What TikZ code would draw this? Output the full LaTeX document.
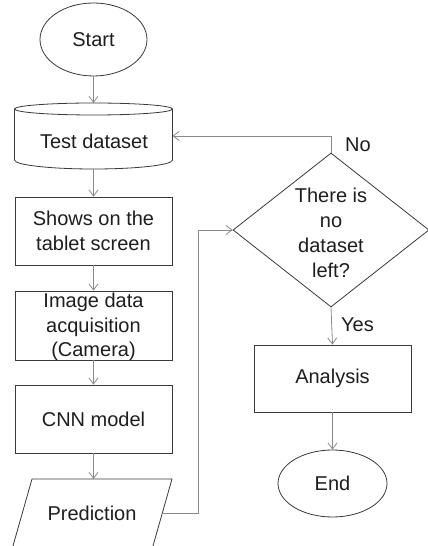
\documentclass[tikz,border=0pt]{standalone}
\usepackage{fontspec}
\setmainfont{Liberation Sans}
\usetikzlibrary{shapes.geometric,arrows.meta}
\definecolor{edgegray}{HTML}{3A3A3A}
\definecolor{linkgray}{HTML}{8A8A8A}
\definecolor{txtc}{HTML}{1E1E1E}
\begin{document}
\begin{tikzpicture}[x=1pt,y=1pt,
  shapeline/.style={draw=edgegray,line width=0.8pt},
  boxnode/.style={shapeline,rectangle,minimum width=157pt,minimum height=68pt,inner sep=0pt},
  ovalnode/.style={shapeline,ellipse,inner sep=0pt},
  txt/.style={text=txtc,font=\fontsize{20}{24.5}\selectfont,align=center,inner sep=0pt},
  link/.style={draw=linkgray,line width=0.8pt,-{Straight Barb[length=6pt,width=9pt]}},
  plainlink/.style={draw=linkgray,line width=0.8pt}]
\useasboundingbox (0,0) rectangle (428,546);
\fill[white] (0,0) rectangle (428,546);

% Start
\node[ovalnode,minimum width=107pt,minimum height=73pt] (start) at (93.5,506.5) {};
\node[txt] at (start.center) {Start};

% Cylinder: Test dataset
\coordinate (dstop) at (93.5,443);
\coordinate (dsbot) at (93.5,377);
\coordinate (dsright) at (172.5,410);
\draw[shapeline] (14.5,437) arc[start angle=180,end angle=0,x radius=79pt,y radius=6pt]
  -- (172.5,386) arc[start angle=0,end angle=-180,x radius=79pt,y radius=9pt] -- cycle;
\draw[shapeline] (14.5,437) arc[start angle=180,end angle=360,x radius=79pt,y radius=6pt];
\node[txt] (ds) at (94,405) {Test dataset};

% Boxes
\node[boxnode] (shows) at (93.5,315) {};
\node[txt] at (shows.center) {Shows on the\\tablet screen};
\node[boxnode,minimum height=69pt] (image) at (93.5,220.5) {};
\node[txt] at (93.5,219) {Image data\\acquisition\\(Camera)};
\node[boxnode] (cnn) at (93.5,127) {};
\node[txt] at (cnn.center) {CNN model};

% Prediction parallelogram
\coordinate (ptl) at (32,67);
\coordinate (ptr) at (172,67);
\coordinate (pbr) at (152.4,-2);
\coordinate (pbl) at (12.4,-2);
\coordinate (ptop) at (93.5,67);
\coordinate (pright) at (162.3,33);
\draw[shapeline] (ptl) -- (ptr) -- (pbr) -- (pbl) -- cycle;
\node[txt] (pred) at (92,33) {Prediction};

% Decision
\node[shapeline,diamond,minimum width=196pt,minimum height=154pt,inner sep=0pt] (dec) at (331,316) {};
\node[txt,font=\fontsize{20}{25}\selectfont] at (331,313.5) {There is\\no\\dataset\\left?};

% Analysis and End
\node[boxnode,minimum height=67pt] (anal) at (332.5,167.5) {};
\node[txt] at (anal.center) {Analysis};
\node[ovalnode,minimum width=109pt,minimum height=67pt] (finish) at (332.5,62.5) {};
\node[txt] at (finish.center) {End};

% Connectors
\draw[link] (start.south) -- (dstop);
\draw[link] (dsbot) -- (shows.north);
\draw[link] (shows.south) -- (image.north);
\draw[link] (image.south) -- (cnn.north);
\draw[link] (cnn.south) -- (ptop);
\coordinate (c1) at (198,33);
\coordinate (c2) at (198,316);
\draw[link] (pright) -- (c1) -- (c2) -- (dec.west);
\coordinate (n1) at (331,410);
\draw[link] (dec.north) -- (n1) -- (dsright);
\draw[link] (dec.south) -- (anal.north);
\draw[link] (anal.south) -- (finish.north);

% Labels
\node[txt,anchor=west] (nolab) at (345,401) {No};
\node[txt,anchor=west] (yeslab) at (341,221) {Yes};
\end{tikzpicture}
\end{document}
